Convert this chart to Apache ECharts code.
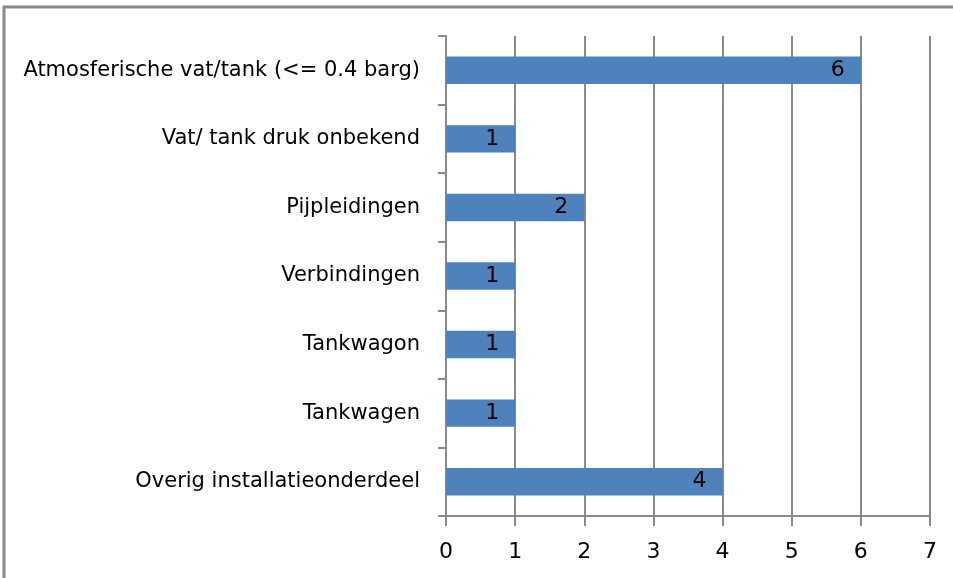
<!DOCTYPE html>
<html><head><meta charset="utf-8">
<script src="https://cdn.jsdelivr.net/npm/echarts@6/dist/echarts.min.js"></script>
<style>html,body{margin:0;padding:0;background:#fff}#c{width:953px;height:578px}</style>
</head><body><div id="c"></div>
<script>
const categories = ["Atmosferische vat/tank (<= 0.4 barg)","Vat/ tank druk onbekend","Pijpleidingen","Verbindingen","Tankwagon","Tankwagen","Overig installatieonderdeel"];
const values = [6,1,2,1,1,1,4];
const xTicks = [0,1,2,3,4,5,6,7];

const chart = echarts.init(document.getElementById('c'), null, {renderer:'canvas'});
const font = '"DejaVu Sans", sans-serif';
chart.setOption({
  animation:false,
  backgroundColor:'#fff',
  graphic:[{type:'rect', shape:{x:4,y:7,width:1200,height:1000}, style:{fill:'none', stroke:'#8a8a8a', lineWidth:3}, silent:true}],
  grid:{left:446, top:36, right:23, bottom:62, containLabel:false},
  xAxis:{type:'value', min:xTicks[0], max:xTicks[xTicks.length-1], interval:1,
    axisLine:{show:true, lineStyle:{color:'#8a8a8a', width:2}},
    axisTick:{show:true, length:10, lineStyle:{color:'#8a8a8a', width:2}},
    splitLine:{show:true, lineStyle:{color:'#8a8a8a', width:2}},
    axisLabel:{color:'#000', fontSize:22, fontFamily:font, margin:25}
  },
  yAxis:{type:'category', data:categories, inverse:true,
    axisLine:{show:true, lineStyle:{color:'#8a8a8a', width:2}},
    axisTick:{show:true, length:8, lineStyle:{color:'#8a8a8a', width:2}},
    axisLabel:{color:'#000', fontSize:21, fontFamily:font, margin:26}
  },
  series:[{type:'bar', data:values, barWidth:'40%', itemStyle:{color:'#4F81BD'},
    label:{show:true, position:'insideRight', distance:16, color:'#000', fontSize:22, fontFamily:font}
  }]
});
</script></body></html>
